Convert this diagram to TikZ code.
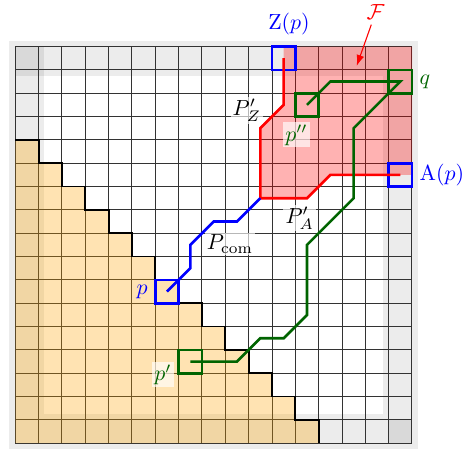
\documentclass[tikz,border=0pt]{standalone}
\usetikzlibrary{arrows.meta}
\definecolor{dgreen}{RGB}{0,100,0}
\definecolor{stairorange}{RGB}{255,165,0}
\begin{document}
\begin{tikzpicture}[x=0.375cm,y=0.375cm,
  gridline/.style={draw=black!80,line width=0.45pt},
  pathline/.style={line width=1.2pt},
  cellbox/.style={draw,line width=1.2pt,minimum size=0.375cm,inner sep=0pt,outer sep=0pt},
  lab/.style={fill=white,fill opacity=0.65,text opacity=1,inner sep=1pt,anchor=base}]
\useasboundingbox (-0.656,-0.25) rectangle (19.40,18.995);
% grey frame
\fill[gray!15] (-0.25,-0.25) rectangle (17.25,17.25);
\fill[white] (1.25,1.25) rectangle (15.75,15.75);
\fill[gray!30] (0,15.75) rectangle (1.25,17);
\fill[gray!30] (16,0) rectangle (17,1);
% grid
\draw[gridline,step=1] (0,0) grid (17,17);
% regions
\fill[stairorange,fill opacity=0.3] (0,0) -- (0,13)
  \foreach \i in {1,...,13} { -| (\i,{13-\i}) } -- cycle;
\fill[red,fill opacity=0.3] (11.5,17) -- (11.5,14.5) -- (10.5,13.5) -- (10.5,10.5)
  -- (12.5,10.5) -- (13.5,11.5) -- (17,11.5) -- (17,17) -- cycle;
\draw[line width=0.8pt] (0,13) \foreach \i in {1,...,13} { -| (\i,{13-\i}) };
% cell boxes
\node[cellbox,draw=blue] (Zp) at (11.5,16.5) {};
\node[cellbox,draw=blue] (Ap) at (16.5,11.5) {};
\node[cellbox,draw=blue] (pb) at (6.5,6.5) {};
\node[cellbox,draw=dgreen] (qb) at (16.5,15.5) {};
\node[cellbox,draw=dgreen] (ppb) at (12.5,14.5) {};
\node[cellbox,draw=dgreen] (pb1) at (7.5,3.5) {};
\coordinate (join) at (10.5,10.5);
% paths
\draw[pathline,red] (Zp.center) -- (11.5,14.5) -- (10.5,13.5) -- (join)
  -- (12.5,10.5) -- (13.5,11.5) -- (Ap.center);
\draw[pathline,blue] (pb.center) -- (7.5,7.5) -- (7.5,8.5) -- (8.5,9.5) -- (9.5,9.5) -- (join);
\draw[pathline,dgreen] (pb1.center) -- (9.5,3.5) -- (10.5,4.5) -- (11.5,4.5) -- (12.5,5.5)
  -- (12.5,8.5) -- (14.5,10.5) -- (14.5,13.5) -- (qb.center) -- (13.5,15.5) -- (ppb.center);
% labels
\node[text=blue,anchor=base] (Zlab) at (11.73,17.74) {$\mathrm{Z}(p)$};
\node[text=blue,right] (Alab) at (Ap.east) {$\mathrm{A}(p)$};
\node[text=dgreen,right] (qlab) at (qb.east) {$q$};
\node[text=blue,left] (plab) at (pb.west) {$p$};
\node[lab] (PZ) at (9.92,14.03) {$P'_Z$};
\node[lab,text=dgreen] (pplab) at (12.05,12.95) {$p''$};
\node[lab] (PA) at (12.19,9.43) {$P'_A$};
\node[lab] (Pcom) at (9.20,8.29) {$P_{\mathrm{com}}$};
\node[lab,text=dgreen] (p1lab) at (6.33,2.67) {$p'$};
\node[text=red,anchor=base,inner sep=1pt] (F) at (15.44,18.14) {$\mathcal{F}$};
\coordinate (Ftip) at (14.63,16.17);
\draw[red,line width=0.5pt,-{Latex[length=5pt,width=3.6pt]},shorten <=1pt] (F) -- (Ftip);
\end{tikzpicture}
\end{document}
